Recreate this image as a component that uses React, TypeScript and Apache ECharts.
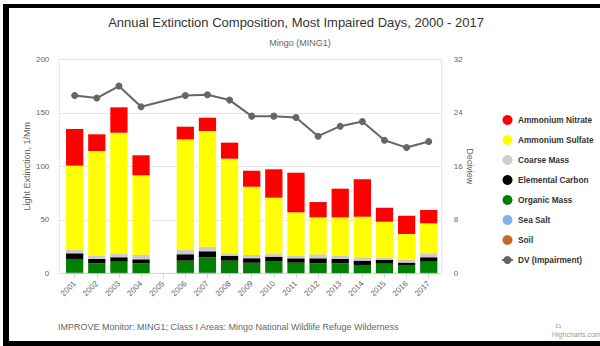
import React, { useEffect, useRef } from "react";
import * as echarts from "echarts";

const years = ["2001", "2002", "2003", "2004", "2005", "2006", "2007", "2008", "2009", "2010", "2011", "2012", "2013", "2014", "2015", "2016", "2017"];
const soil = [0.3, 0.2, 0.3, 0.2, null, 0.3, 0.3, 0.2, 0.2, 0.3, 0.2, 0.2, 0.2, 0.2, 0.2, 0.2, 0.3];
const seaSalt = [0.2, 0.1, 0.1, 0.1, null, 0.1, 0.2, 0.1, 0.1, 0.1, 0.1, 0.1, 0.1, 0.1, 0.1, 0.1, 0.1];
const organicMass = [12.9, 9.0, 10.5, 9.0, null, 11.4, 14.5, 11.5, 9.6, 11.1, 9.6, 9.0, 9.0, 7.5, 8.7, 7.5, 10.5];
const elementalCarbon = [5.3, 4.1, 4.1, 3.8, null, 6.0, 5.6, 4.6, 4.1, 4.0, 4.1, 4.7, 4.1, 4.0, 3.4, 2.2, 4.1];
const coarseMass = [3.1, 3.0, 3.0, 4.3, null, 4.0, 4.3, 2.3, 3.1, 2.5, 2.4, 3.7, 3.0, 3.2, 2.5, 2.5, 3.7];
const ammoniumSulfate = [78.8, 97.9, 113.4, 74.2, null, 103.4, 108.1, 88.4, 63.8, 52.7, 40.6, 34.6, 35.9, 37.9, 33.3, 24.2, 28.0];
const ammoniumNitrate = [34.3, 15.6, 23.7, 18.7, null, 11.8, 12.4, 15.0, 15.0, 26.5, 37.0, 14.3, 26.8, 35.0, 13.1, 17.1, 12.5];
const dvImpairment = [26.6, 26.2, 28.0, 24.9, null, 26.6, 26.7, 25.9, 23.5, 23.5, 23.3, 20.5, 22.0, 22.7, 19.9, 18.8, 19.7];

const leftTicks = { min: 0, max: 200, interval: 50 };
const rightTicks = { min: 0, max: 32, interval: 8 };

const TITLE = "Annual Extinction Composition, Most Impaired Days, 2000 - 2017";
const SUBTITLE = "Mingo (MING1)";
const FOOTER = "IMPROVE Monitor: MING1; Class I Areas: Mingo National Wildlife Refuge Wilderness";

const FONT = "'Liberation Sans', Arial, sans-serif";

export default function App() {
  const ref = useRef<HTMLDivElement>(null);
  useEffect(() => {
    document.body.style.margin = "0";
    const chart = echarts.init(ref.current!, null, { renderer: "svg" });
    const barDefs = [
      { name: "Soil", data: soil, color: "#c8692c" },
      { name: "Sea Salt", data: seaSalt, color: "#7fb2e8" },
      { name: "Organic Mass", data: organicMass, color: "#007f00" },
      { name: "Elemental Carbon", data: elementalCarbon, color: "#000000" },
      { name: "Coarse Mass", data: coarseMass, color: "#cccccc" },
      { name: "Ammonium Sulfate", data: ammoniumSulfate, color: "#ffff00" },
      { name: "Ammonium Nitrate", data: ammoniumNitrate, color: "#ff0000" },
    ];
    const series: any[] = barDefs.map((d) => ({
      name: d.name,
      type: "bar",
      stack: "ext",
      xAxisIndex: 1,
      yAxisIndex: 2,
      data: d.data,
      barCategoryGap: "22%",
      itemStyle: { color: d.color },
    }));
    series.push({
      name: "DV (Impairment)",
      type: "line",
      xAxisIndex: 1,
      yAxisIndex: 3,
      data: dvImpairment,
      connectNulls: true,
      symbol: "circle",
      symbolSize: 7,
      lineStyle: { color: "#666666", width: 2 },
      itemStyle: { color: "#666666" },
    });
    const option: any = {
      animation: false,
      textStyle: { fontFamily: FONT },
      grid: [
        { left: 59.3, right: 158.3, top: 59.3, bottom: 72.7, show: true, borderColor: "#e6e6e6", borderWidth: 1, backgroundColor: "transparent" },
        { left: 63.6, right: 160.2, top: 59.3, bottom: 72.7 },
      ],
      xAxis: [
        { type: "value", gridIndex: 0, show: false, min: 0, max: 1 },
        {
          type: "category",
          gridIndex: 1,
          data: years,
          axisLine: { show: true, lineStyle: { color: "#ccd6eb" } },
          axisTick: { show: true, alignWithLabel: true, length: 5, lineStyle: { color: "#ccd6eb" } },
          axisLabel: { rotate: 45, fontSize: 8, color: "#666", margin: 9, interval: 0, fontFamily: FONT },
        },
      ],
      yAxis: [
        {
          type: "value",
          gridIndex: 0,
          position: "left",
          ...leftTicks,
          name: "Light Extinction, 1/Mm",
          nameLocation: "middle",
          nameRotate: 90,
          nameGap: 28,
          nameMoveOverlap: false,
          nameTextStyle: { fontSize: 9, color: "#666", fontFamily: FONT },
          axisLine: { show: false },
          axisTick: { show: false },
          axisLabel: { fontSize: 8, color: "#666", margin: 10, fontFamily: FONT },
          splitLine: { show: true, lineStyle: { color: "#e6e6e6" } },
        },
        {
          type: "value",
          gridIndex: 0,
          position: "right",
          ...rightTicks,
          name: "Deciview",
          nameLocation: "middle",
          nameRotate: -90,
          nameGap: 24,
          nameMoveOverlap: false,
          nameTextStyle: { fontSize: 9, color: "#666", fontFamily: FONT },
          axisLine: { show: false },
          axisTick: { show: false },
          axisLabel: { fontSize: 8, color: "#666", margin: 12, fontFamily: FONT },
          splitLine: { show: false },
        },
        { type: "value", gridIndex: 1, ...leftTicks, show: false, splitLine: { show: false } },
        { type: "value", gridIndex: 1, ...rightTicks, show: false, splitLine: { show: false } },
      ],
      legend: {
        orient: "vertical",
        left: 496,
        top: 110,
        itemWidth: 11,
        itemHeight: 10,
        itemGap: 10,
        textStyle: { fontSize: 8.3, fontWeight: "bold", color: "#333", lineHeight: 10, fontFamily: FONT },
        data: [
          { name: "Ammonium Nitrate", icon: "circle" },
          { name: "Ammonium Sulfate", icon: "circle" },
          { name: "Coarse Mass", icon: "circle" },
          { name: "Elemental Carbon", icon: "circle" },
          { name: "Organic Mass", icon: "circle" },
          { name: "Sea Salt", icon: "circle" },
          { name: "Soil", icon: "circle" },
          { name: "DV (Impairment)" },
        ],
      },
      graphic: [
        { type: "rect", shape: { x: 3, y: 4, width: 597, height: 4 }, style: { fill: "#000" } },
        { type: "rect", shape: { x: 3, y: 4, width: 6, height: 342 }, style: { fill: "#000" } },
        { type: "rect", shape: { x: 3, y: 341, width: 597, height: 5 }, style: { fill: "#000" } },
        { type: "text", x: 296, y: 22, style: { text: TITLE, fontSize: 13, fill: "#333", textAlign: "center", textVerticalAlign: "middle", fontFamily: FONT } },
        { type: "text", x: 300, y: 43, style: { text: SUBTITLE, fontSize: 9, fill: "#666", textAlign: "center", textVerticalAlign: "middle", fontFamily: FONT } },
        { type: "text", x: 58, y: 327, style: { text: FOOTER, fontSize: 9, fill: "#666", textAlign: "left", textVerticalAlign: "middle", fontFamily: FONT } },
        { type: "text", x: 555, y: 326, style: { text: "31", fontSize: 6, fill: "#999", textAlign: "left", textVerticalAlign: "middle", fontFamily: FONT } },
        { type: "text", x: 552, y: 334, style: { text: "Highcharts.com", fontSize: 7, fill: "#999", textAlign: "left", textVerticalAlign: "middle", fontFamily: FONT } },
      ],
      series,
    };
    chart.setOption(option);
    return () => chart.dispose();
  }, []);
  return <div ref={ref} style={{ width: 600, height: 346 }} />;
}
